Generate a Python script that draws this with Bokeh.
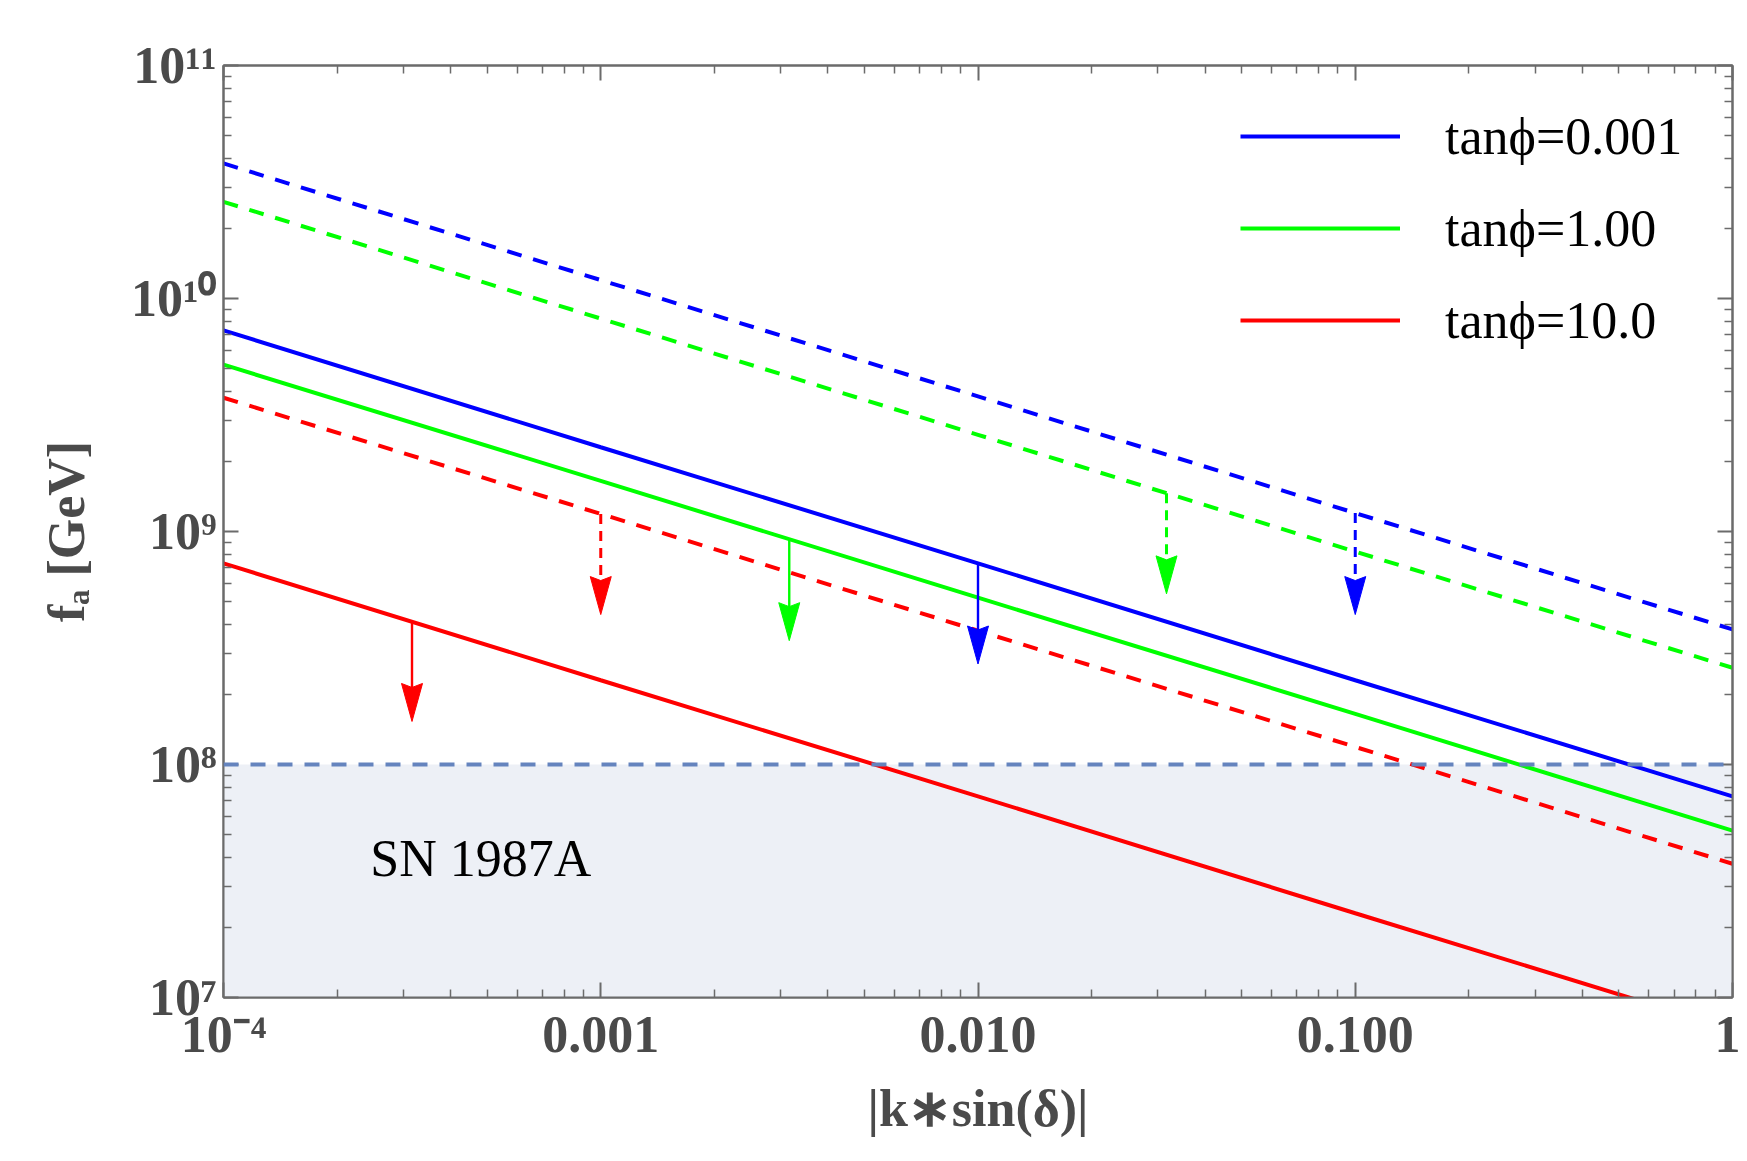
import numpy as np
from bokeh.plotting import figure
from bokeh.models import (FixedTicker, CustomJSTickFormatter, LogAxis, Legend, LegendItem,
                          BoxAnnotation, Span, ColumnDataSource)
from bokeh.embed import file_html
from bokeh.resources import INLINE
from bokeh.core.properties import value

# ---------------- data ----------------
x_vals = [1e-4, 1e-3, 1e-2, 1e-1, 1.0]
blue_solid = [7.3e9, 2.3e9, 7.3e8, 2.3e8, 7.3e7]
green_solid = [5.2e9, 1.65e9, 5.2e8, 1.65e8, 5.2e7]
red_solid = [7.3e8, 2.3e8, 7.3e7, 2.3e7, 7.3e6]
blue_dashed = [3.8e10, 1.2e10, 3.8e9, 1.2e9, 3.8e8]
green_dashed = [2.6e10, 8.2e9, 2.6e9, 8.2e8, 2.6e8]
red_dashed = [3.75e9, 1.19e9, 3.75e8, 1.19e8, 3.75e7]

legend_labels = ["tan\u03d5=0.001", "tan\u03d5=1.00", "tan\u03d5=10.0"]

arrow_x = [3.16e-4, 1e-3, 3.16e-3, 1e-2, 3.16e-2, 1e-1]
arrow_start = [4.1e8, 1.19e9, 9.25e8, 7.3e8, 1.46e9, 1.2e9]
arrow_tip = [1.53e8, 4.4e8, 3.4e8, 2.7e8, 5.4e8, 4.4e8]
arrow_series = ["red", "red", "green", "blue", "green", "blue"]
arrow_is_dashed = [False, True, False, False, True, True]

sn_bound = 1e8
sn_label = "SN 1987A"

x_ticks = [1e-4, 1e-3, 1e-2, 1e-1, 1.0]
x_tick_labels = ["10\u207b\u2074", "0.001", "0.010", "0.100", "1"]
y_ticks = [1e7, 1e8, 1e9, 1e10, 1e11]
y_tick_labels = ["10\u2077", "10\u2078", "10\u2079", "10\u00b9\u2070", "10\u00b9\u00b9"]

# ---------------- styling ----------------
COLORS = {"blue": "#0000FF", "green": "#00FF00", "red": "#FF0000"}
AX = "#6b6b6b"
TXT = "#4a4a4a"
FONT = "Liberation Serif"

FW, FH = 1509, 932
p = figure(x_axis_type="log", y_axis_type="log",
           x_range=(1e-4, 1.0), y_range=(1e7, 1e11),
           frame_width=FW, frame_height=FH,
           min_border_left=223, min_border_right=8, min_border_top=65, min_border_bottom=150,
           output_backend="svg", toolbar_location=None,
           background_fill_color="white", border_fill_color="white")
p.grid.visible = False
p.outline_line_color = AX
p.outline_line_width = 2

x_minor = [m * 10.0 ** k for k in range(-4, 0) for m in range(2, 10)]
y_minor = [m * 10.0 ** k for k in range(7, 11) for m in range(2, 10)]


def fmt(tvals, tlabels):
    return CustomJSTickFormatter(args=dict(tv=tvals, tl=tlabels), code="""
        for (let i = 0; i < tv.length; i++) {
            if (Math.abs(Math.log10(tick) - Math.log10(tv[i])) < 1e-6) return tl[i];
        }
        return "";
    """)


def style_axis(ax, show_labels):
    ax.axis_line_color = AX
    ax.axis_line_width = 2
    ax.major_tick_line_color = AX
    ax.minor_tick_line_color = AX
    ax.major_tick_line_width = 2
    ax.minor_tick_line_width = 1.5
    ax.major_tick_in = 15
    ax.major_tick_out = 0
    ax.minor_tick_in = 8
    ax.minor_tick_out = 0
    ax.major_label_text_font = FONT
    ax.major_label_text_font_style = "bold"
    ax.major_label_text_color = TXT
    ax.axis_label_text_font = FONT
    ax.axis_label_text_font_style = "bold"
    ax.axis_label_text_color = TXT
    ax.axis_label_text_font_size = "52px"
    if show_labels:
        ax.major_label_text_font_size = "52px"
    else:
        ax.major_label_text_font_size = "0px"
        ax.major_label_standoff = 0


xb = p.xaxis[0]
xb.ticker = FixedTicker(ticks=x_ticks, minor_ticks=x_minor)
xb.formatter = fmt(x_ticks, x_tick_labels)
style_axis(xb, True)
xb.major_label_standoff = 8
xb.axis_label = "|k\u2217sin(\u03b4)|"
xb.axis_label_standoff = 14

yl = p.yaxis[0]
yl.ticker = FixedTicker(ticks=y_ticks, minor_ticks=y_minor)
yl.formatter = fmt(y_ticks, y_tick_labels)
style_axis(yl, True)
yl.major_label_standoff = 7
yl.axis_label = "f\u2090 [GeV]"
yl.axis_label_standoff = 33

xt = LogAxis(ticker=FixedTicker(ticks=x_ticks, minor_ticks=x_minor),
             formatter=fmt([], []))
style_axis(xt, False)
p.add_layout(xt, "above")
yr = LogAxis(ticker=FixedTicker(ticks=y_ticks, minor_ticks=y_minor),
             formatter=fmt([], []))
style_axis(yr, False)
p.add_layout(yr, "right")

# SN 1987A excluded region
p.add_layout(BoxAnnotation(top=sn_bound, fill_color="#EDF0F6", fill_alpha=1.0,
                           line_alpha=0, level="underlay"))
p.add_layout(Span(location=sn_bound, dimension="width", line_color="#6584BE",
                  line_width=4, line_dash="15 12"))
p.text(x=[2.45e-4], y=[3.95e7], text=[sn_label], text_font=value(FONT),
       text_font_size="52px", text_color="black", text_baseline="middle", text_align="left")

# lines
DASH = "15 12"
solid_r = {}
for name, ys in [("blue", blue_solid), ("green", green_solid), ("red", red_solid)]:
    solid_r[name] = p.line(x_vals, ys, line_color=COLORS[name], line_width=4)
for name, ys in [("blue", blue_dashed), ("green", green_dashed), ("red", red_dashed)]:
    p.line(x_vals, ys, line_color=COLORS[name], line_width=4, line_dash=DASH)

# arrows (shaft + narrow head computed from tip values in log space)
ppd_x = FW / 4.0
ppd_y = FH / 4.0
half_w, head_len, notch = 10.5, 38.0, 4.0
fx = 10 ** (half_w / ppd_x)
fl = 10 ** (head_len / ppd_y)
fn = 10 ** ((head_len - notch) / ppd_y)
fs = 10 ** ((head_len - 8) / ppd_y)
for ax_, ys, yt, ser, dsh in zip(arrow_x, arrow_start, arrow_tip, arrow_series, arrow_is_dashed):
    c = COLORS[ser]
    if dsh:
        p.line([ax_, ax_], [ys, yt * fs], line_color=c, line_width=3, line_dash="10 7")
    else:
        p.line([ax_, ax_], [ys, yt * fs], line_color=c, line_width=2.4)
    p.patch([ax_, ax_ * fx, ax_, ax_ / fx], [yt, yt * fl, yt * fn, yt * fl],
            fill_color=c, line_color=c, line_width=1)

legend = Legend(items=[LegendItem(label=legend_labels[i], renderers=[solid_r[n]])
                       for i, n in enumerate(["blue", "green", "red"])],
                location=(1017, 647), orientation="vertical",
                glyph_width=160, glyph_height=60, label_height=60, label_standoff=45,
                spacing=32, padding=0, margin=0,
                label_text_font=FONT, label_text_font_size="52px", label_text_color="black",
                border_line_alpha=0, background_fill_alpha=0)
p.add_layout(legend)

open("out.html", "w").write(file_html(p, INLINE))
